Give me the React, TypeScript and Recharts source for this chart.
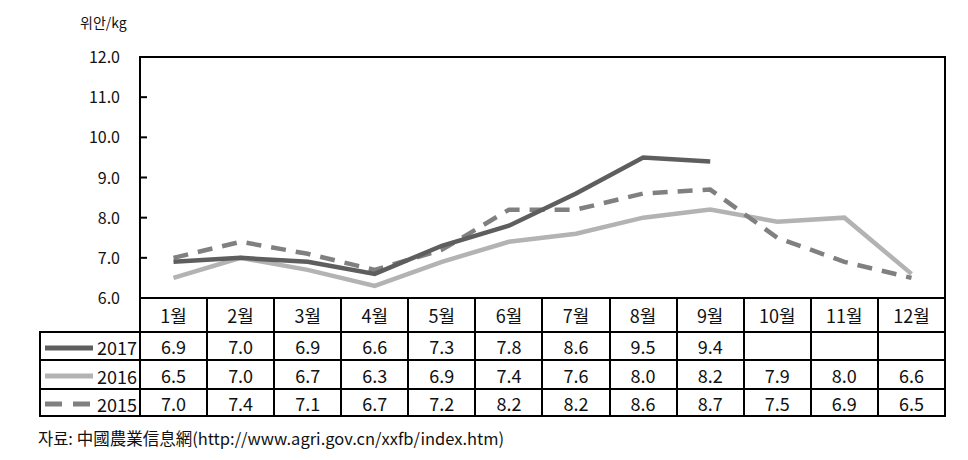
import { CartesianGrid, Line, LineChart, XAxis, YAxis } from "recharts";

const months = ["1월", "2월", "3월", "4월", "5월", "6월", "7월", "8월", "9월", "10월", "11월", "12월"];
const price2017: (number | null)[] = [6.9, 7.0, 6.9, 6.6, 7.3, 7.8, 8.6, 9.5, 9.4, null, null, null];
const price2016 = [6.5, 7.0, 6.7, 6.3, 6.9, 7.4, 7.6, 8.0, 8.2, 7.9, 8.0, 6.6];
const price2015 = [7.0, 7.4, 7.1, 6.7, 7.2, 8.2, 8.2, 8.6, 8.7, 7.5, 6.9, 6.5];
const yTicks = [6, 7, 8, 9, 10, 11, 12];

const FONT = "'Noto Sans CJK KR', 'Noto Sans', sans-serif";
const C2017 = "#5e5e5e";
const C2016 = "#b3b3b3";
const C2015 = "#808080";

const rows = [
  { year: "2017", color: C2017, dash: false, values: price2017, h: 28 },
  { year: "2016", color: C2016, dash: false, values: price2016, h: 29 },
  { year: "2015", color: C2015, dash: true, values: price2015, h: 27 },
];

const data = months.map((m, i) => ({
  month: m,
  y2017: price2017[i],
  y2016: price2016[i],
  y2015: price2015[i],
}));

function YTick({ x, y, payload }: { x?: number; y?: number; payload?: { value: number } }) {
  const v = payload?.value ?? 0;
  const inner = v > 6 && v < 12;
  return (
    <g>
      <text x={x} y={y} dy={6} textAnchor="end" fontSize={16} fill="#111" fontFamily={FONT}>
        {v.toFixed(1)}
      </text>
      {inner && <line x1={(x ?? 0) + 20} x2={(x ?? 0) + 27} y1={y} y2={y} stroke="#000" strokeWidth={2} />}
    </g>
  );
}

const cell: React.CSSProperties = {
  border: "2px solid #000",
  textAlign: "center",
  padding: 0,
  fontSize: 18,
  lineHeight: "20px",
  color: "#111",
  boxSizing: "border-box",
};

export default function App() {
  return (
    <div style={{ position: "absolute", left: 0, top: 0, width: 968, height: 460, background: "#fff", fontFamily: FONT }}>
      <div style={{ position: "absolute", left: 80, top: 12, fontSize: 14, color: "#111" }}>위안/kg</div>
      <LineChart width={968} height={460} data={data} margin={{ top: 57, right: 23, bottom: 162, left: 80 }}>
        <CartesianGrid horizontal={false} vertical={false} />
        <XAxis dataKey="month" hide padding={{ left: 33.5, right: 33.5 }} />
        <YAxis
          domain={[6, 12]}
          ticks={yTicks}
          width={60}
          axisLine={false}
          tickLine={false}
          tickSize={6}
          tickMargin={14}
          tick={<YTick />}
        />
        <Line dataKey="y2016" stroke={C2016} strokeWidth={4.5} dot={false} isAnimationActive={false} strokeLinejoin="miter" />
        <Line dataKey="y2015" stroke={C2015} strokeWidth={4.5} strokeDasharray="15 10" dot={false} isAnimationActive={false} />
        <Line dataKey="y2017" stroke={C2017} strokeWidth={4.5} dot={false} connectNulls={false} isAnimationActive={false} />
      </LineChart>
      <div
        style={{
          position: "absolute",
          left: 139,
          top: 56,
          width: 807,
          height: 243,
          border: "2px solid #000",
          boxSizing: "border-box",
          pointerEvents: "none",
        }}
      />
      <table
        style={{
          position: "absolute",
          left: 39,
          top: 297,
          width: 907,
          borderCollapse: "collapse",
          tableLayout: "fixed",
          fontFamily: FONT,
        }}
      >
        <colgroup>
          <col style={{ width: 100 }} />
          {months.map((m) => (
            <col key={m} />
          ))}
        </colgroup>
        <tbody>
          <tr>
            <td style={{ ...cell, height: 34, borderTop: "none", borderLeft: "none" }} />
            {months.map((m) => (
              <td key={m} style={{ ...cell, height: 34 }}>
                {m}
              </td>
            ))}
          </tr>
          {rows.map((r) => (
            <tr key={r.year}>
              <td style={{ ...cell, height: r.h, textAlign: "left", whiteSpace: "nowrap" }}>
                <svg width={52} height={10} style={{ marginLeft: 4, verticalAlign: "middle" }}>
                  <line
                    x1={0}
                    x2={48}
                    y1={5}
                    y2={5}
                    stroke={r.color}
                    strokeWidth={5}
                    strokeDasharray={r.dash ? "17 11" : undefined}
                  />
                </svg>
                <span style={{ verticalAlign: "middle", fontSize: 18 }}>{r.year}</span>
              </td>
              {r.values.map((v, i) => (
                <td key={i} style={{ ...cell, height: r.h }}>
                  {v == null ? "" : v.toFixed(1)}
                </td>
              ))}
            </tr>
          ))}
        </tbody>
      </table>
      <div style={{ position: "absolute", left: 38, top: 426, fontSize: 16.5, color: "#111", whiteSpace: "nowrap" }}>
        자료: 中國農業信息網(http://www.agri.gov.cn/xxfb/index.htm)
      </div>
    </div>
  );
}
